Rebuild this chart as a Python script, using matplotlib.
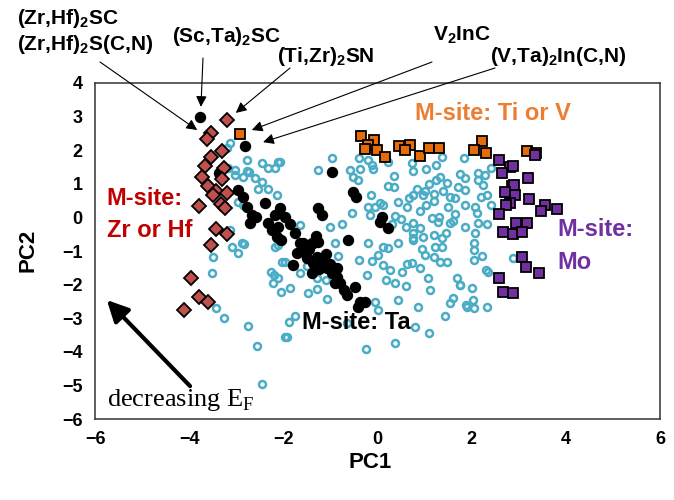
import numpy as np
import matplotlib
matplotlib.use("Agg")
import matplotlib.pyplot as plt
from matplotlib import font_manager

# PCA scores
other_x = [-3.13, -3.20, -2.78, -2.46, -2.32, -2.11, -2.18, -3.17, -3.03, -2.78, -2.72, -3.03, -2.85, -2.60, -2.46,
           -2.53, -2.32, -2.14, -2.96, -2.85, -3.13, -2.88, -3.10, -2.18, -2.83, -2.97, -3.49, -3.51, -2.12, -2.02,
           -2.26, -2.20, -2.12, -2.21, -2.04, -3.42, -3.25, -2.74, -2.55, -2.46, -1.96, -2.07,
           -0.96, -0.39, -0.20, -0.12, 0.23, -1.26, -0.58, -0.37, -0.09, -0.53, -0.41, 0.34, 0.23, 0.34, 0.73, 0.76,
           1.04, 1.25, 1.38, 1.83, 0.83, 0.76, 0.97, 1.25, 1.33, 1.47, 1.19, 1.40, 1.65, 1.86, 1.86, 1.04, 0.62,
           0.66, 0.44, -0.14, -0.21, -0.05, 0.05, 0.12, -0.16, -0.55, 0.37, 0.30, 0.76, 0.90, 1.15, 1.29, 1.54,
           1.61, 1.65, 1.86, 0.97, 1.19, 1.36, 1.38, 0.76, 0.76, -0.20, 0.44, 0.22, -1.65, -0.90,
           0.12, 0.76, 1.22, -0.83, -0.39, -0.12, 0.02, 0.12, 0.27, 0.51, 0.62, 0.73, 0.90, 1.01, 1.19, 1.33, 1.47,
           -1.96, -1.65, -1.29, -0.23, 0.19, 0.37, 1.08, 1.12, 1.68, 1.76, -1.86, -1.47, -1.29, -1.08, -0.05, 0.02,
           0.44, 0.85, 1.54, 1.43, 1.87, -1.75, -1.89, -1.93, -0.65, 0.80, 1.10, 0.37, -0.24,
           1.86, 2.14, 2.14, 2.28, 2.42, 2.32, 2.42, 2.19, 2.07, 2.11, 2.14, 2.32, 2.07, 2.04,
           2.04, 2.21, 2.04, 2.35, 2.30, 2.88, 1.75, 2.00, 2.03, 1.90, 2.05, 2.33,
           1.00, 1.20, 0.90, 1.50, 1.70, 1.30, 0.60, 1.10, 1.55, 0.50, 1.75, 2.25, 0.95, 1.45, -1.00, -0.75,
           -1.50, -1.10, 0.60, 1.60]
other_y = [2.21, 2.06, 1.71, 1.61, 1.46, 1.66, 1.46, 1.46, 1.41, 1.39, 1.35, 1.26, 1.21, 1.16, 1.06,
           0.86, 0.86, 0.67, 0.47, 0.37, -0.38, -0.77, -0.87, -0.87, -0.79, -1.05, -1.19, -1.66, -0.82, -1.32,
           -1.62, -1.70, -1.81, -1.94, -2.21, -2.71, -2.98, -3.23, -3.82, -4.96, -3.55, 1.66,
           1.78, 1.78, 1.71, 1.56, 1.66, 1.41, 1.41, 1.43, 1.43, 1.21, 1.11, 1.23, 0.93, 0.90, 1.63, 1.39,
           1.43, 1.56, 1.79, 1.76, 0.86, 0.67, 0.67, 1.11, 1.20, 1.01, 0.71, 0.80, 0.57, 0.82, 0.37, 0.37, 0.32,
           0.57, 0.47, 0.67, 0.32, 0.32, 0.42, 0.37, 0.07, 0.12, 0.04, -0.20, -0.18, -0.33, -0.03, -0.13, -0.18,
           -0.10, 0.10, -0.28, -0.57, -0.52, -0.62, -0.87, -0.47, -0.67, -0.75, -0.77, -0.92, -0.23, -0.77,
           -0.87, -0.60, -0.89, -1.15, -1.27, -1.29, -1.12, -1.42, -1.57, -1.62, -1.40, -1.37, -1.52, -1.12, -1.17, -1.32, -1.32,
           -1.32, -1.66, -1.81, -1.71, -1.86, -1.94, -1.81, -2.16, -1.81, -2.00, -2.11, -2.26, -2.14, -2.44, -2.51, -2.76,
           -2.46, -2.66, -2.56, -2.93, -2.60, -2.93, -3.10, -3.57, -3.15, -3.25, -3.45, -3.73, -3.92,
           1.16, 1.31, 1.11, 1.26, 1.46, 0.67, 0.37, 0.60, 0.30, 0.12, -0.18, -0.20, -0.47, -0.77,
           -0.97, -1.15, -1.27, -1.62, -1.58, -1.22, -2.01, -2.11, -2.46, -2.66, -2.71, -2.66,
           0.80, 0.50, 0.20, 0.30, 0.90, 0.00, -0.30, 1.00, 0.60, -0.05, 1.30, 0.95, -0.95, -0.45, -0.30, -0.20,
           -1.45, -1.85, -2.05, -2.40]

ta_x = [-3.77, -2.81, -3.37, -2.96, -2.85, -2.78, -2.67, -2.57, -2.71, -2.39, -2.32, -2.18, -2.25, -2.11, -2.14,
        -2.04, -0.96, -0.53, -0.46, -1.26, -1.18, 0.09, 0.23, 0.05, -0.62, -2.07, -1.96, -1.86, -1.75, -1.58,
        -1.40, -1.26, -1.65, -1.36, -1.30, -1.72, -1.54, -1.79, -1.36, -1.29, -1.40, -1.08, -0.97, -0.87, -0.80,
        -0.72, -0.65, -0.48, -0.37, -0.27, -0.41, -0.90, -1.50, -1.20, -1.60, -1.10, -1.45, -1.00, -1.25, -0.85]
ta_y = [2.98, 2.13, 1.33, 0.82, 0.60, 0.32, 0.07, 0.00, -0.18, 0.42, -0.18, 0.07, -0.38, -0.28, -0.57,
        -0.67, 1.34, 0.77, 0.62, 0.27, 0.07, 0.02, -0.33, -0.13, -0.67, 0.27, 0.02, -0.20, -0.47, -0.77,
        -0.77, -0.72, -0.77, -0.77, -0.55, -1.07, -0.97, -1.42, -1.37, -1.17, -1.66, -1.52, -1.66, -1.76, -1.96,
        -2.16, -2.31, -2.06, -2.51, -2.51, -2.66, -1.95, -1.20, -1.30, -1.00, -1.10, -0.95, -1.40, -1.55, -1.50]

zrhf_x = [-3.20, -3.54, -3.63, -3.30, -3.54, -3.66, -3.27, -3.73, -3.30, -3.59, -3.44, -3.20, -3.49, -3.79,
          -3.32, -3.24, -3.42, -3.20, -3.54, -3.97, -3.79, -3.59, -4.12]
zrhf_y = [2.90, 2.52, 2.32, 1.99, 1.79, 1.53, 1.46, 1.19, 1.13, 0.93, 0.79, 0.74, 0.68, 0.34,
          0.40, 0.29, -0.35, -0.50, -0.82, -1.79, -2.38, -2.51, -2.76]

tiv_x = [-2.92, -0.35, -0.07, -0.20, -0.27, -0.02, 0.16, 0.46, 0.68, 0.58, 0.90, 1.09, 1.31, 2.21, 2.05,
         2.30, 3.17, 3.37]
tiv_y = [2.47, 2.42, 2.30, 2.15, 2.03, 2.01, 1.81, 2.13, 2.15, 2.01, 1.84, 2.06, 2.06, 2.26, 2.01,
         1.91, 1.99, 1.91]

mo_x = [2.59, 2.81, 2.88, 2.64, 3.20, 2.85, 2.90, 2.71, 2.92, 2.81, 2.73, 3.22, 3.56, 3.81, 3.47, 2.59,
        2.94, 3.17, 2.67, 2.87, 3.06, 3.06, 3.15, 3.42, 2.57, 2.66, 2.88, 3.34]
mo_y = [1.71, 1.51, 1.53, 1.31, 1.16, 0.93, 0.95, 0.76, 0.67, 0.42, 0.37, 0.54, 0.37, 0.24, 0.20, 0.10,
        -0.18, -0.18, -0.43, -0.50, -0.43, -1.17, -1.49, -1.66, -1.81, -2.23, -2.26, 1.86]

ticks_x = [-6, -4, -2, 0, 2, 4, 6]
ticks_y = [-6, -5, -4, -3, -2, -1, 0, 1, 2, 3, 4]

# compounds called out at the top and the point each arrow goes to
callouts = ["(Zr,Hf)$_\\mathbf{2}$S(C,N)", "(Sc,Ta)$_\\mathbf{2}$SC", "(Ti,Zr)$_\\mathbf{2}$SN",
            "V$_\\mathbf{2}$InC", "(V,Ta)$_\\mathbf{2}$In(C,N)"]
callout_x = [-3.83, -3.75, -3.01, -2.67, -2.43]
callout_y = [2.60, 3.29, 3.11, 2.60, 2.24]

names = {f.name for f in font_manager.fontManager.ttflist}
narrow = "Liberation Sans Narrow" if "Liberation Sans Narrow" in names else "Liberation Sans"

plt.rcParams["mathtext.fontset"] = "custom"
plt.rcParams["mathtext.bf"] = narrow + ":bold"
plt.rcParams["mathtext.rm"] = "Liberation Serif"

fig = plt.figure(figsize=(6.74, 5), dpi=100)
ax = fig.add_axes([95 / 674, 81 / 500, 565 / 674, 336 / 500])

ax.plot(other_x, other_y, 'o', ms=5.0, mfc='none', mec='#4BACC6', mew=1.8, zorder=2)
ax.plot(ta_x, ta_y, 'o', ms=7.2, color='black', zorder=3)
ax.plot(zrhf_x, zrhf_y, 'D', ms=7.2, mfc='#C0504D', mec='black', mew=1.3, zorder=4)
ax.plot(tiv_x, tiv_y, 's', ms=7.2, mfc='#E46C0A', mec='black', mew=1.3, zorder=4)
ax.plot(mo_x, mo_y, 's', ms=7.2, mfc='#7030A0', mec='black', mew=1.3, zorder=4)

ax.set_xlim(-6, 6)
ax.set_ylim(-6, 4)
ax.set_xticks(ticks_x)
ax.set_yticks(ticks_y)
ax.tick_params(length=0, pad=9)
for lab in ax.get_xticklabels() + ax.get_yticklabels():
    lab.set_fontfamily(narrow)
    lab.set_fontweight('bold')
    lab.set_fontsize(13)
for s in ax.spines.values():
    s.set_linewidth(1.1)
    s.set_color('#333333')

fig.text(370 / 674, 1 - 462 / 500, "PC1", ha='center', va='center', fontsize=16,
         fontweight='bold', family='Liberation Sans')
fig.text(28 / 674, 1 - 250 / 500, "PC2", ha='center', va='center', fontsize=16,
         fontweight='bold', family='Liberation Sans', rotation=90)

# group labels
ax.text(-5.75, 0.55, "M-site:", color='#C00000', fontsize=17, fontweight='bold', va='center',
        family='Liberation Sans')
ax.text(-5.75, -0.40, "Zr or Hf", color='#C00000', fontsize=17, fontweight='bold', va='center',
        family='Liberation Sans')
ax.text(0.80, 3.08, "M-site: Ti or V", color='#ED7D31', fontsize=17, fontweight='bold', va='center',
        family='Liberation Sans')
ax.text(3.83, -0.35, "M-site:", color='#7030A0', fontsize=17, fontweight='bold', va='center',
        family='Liberation Sans')
ax.text(3.83, -1.33, "Mo", color='#7030A0', fontsize=17, fontweight='bold', va='center',
        family='Liberation Sans')
ax.text(-1.60, -3.14, "M-site: Ta", color='black', fontsize=17, fontweight='bold', va='center',
        family='Liberation Sans')

# E_F arrow
ax.annotate('', xy=(-5.79, -2.40), xytext=(-3.94, -5.08),
            arrowprops=dict(arrowstyle='-|>', lw=3, color='black', mutation_scale=32))
ax.text(-5.75, -5.62, "decreasing E$_\\mathrm{F}$", fontsize=19, family='Liberation Serif')

# labels above the plot
fig.text(17 / 674, 1 - 19 / 500, "(Zr,Hf)$_\\mathbf{2}$SC", fontsize=15, fontweight='bold',
         family=narrow, va='center')
text_px = [(17, 45), (172, 37), (277, 57), (433, 35), (490, 57)]
tail_px = [(100, 62), (203, 58), (290, 68), (432, 62), (495, 68)]
for lbl, (tx, ty), (ax_, ay_), px, py in zip(callouts, text_px, tail_px, callout_x, callout_y):
    fig.text(tx / 674, 1 - ty / 500, lbl, fontsize=15, fontweight='bold', family=narrow, va='center')
    ax.annotate('', xy=(px, py), xytext=(ax_, 500 - ay_), textcoords='figure pixels',
                annotation_clip=False,
                arrowprops=dict(arrowstyle='-|>', lw=0.8, color='black', mutation_scale=16,
                                shrinkA=0, shrinkB=0))

fig.savefig("out.png", dpi=100)
